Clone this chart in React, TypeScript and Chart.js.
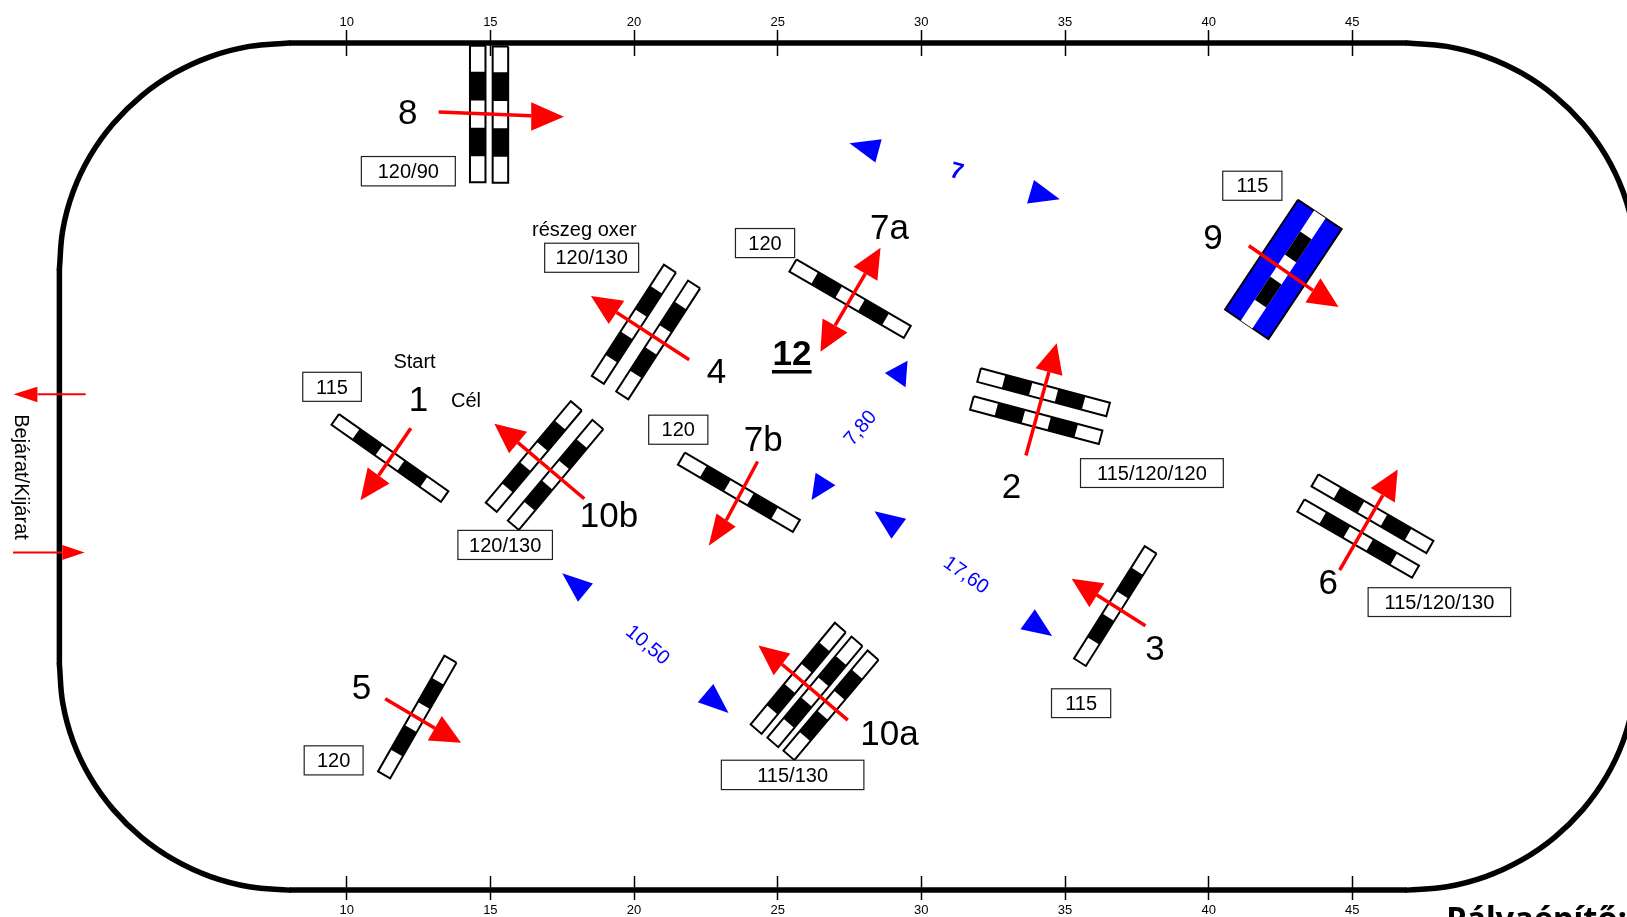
import React, { useEffect, useRef } from "react";
import { Chart, registerables } from "chart.js";

Chart.register(...registerables);

// ---- axis ----
const TICK_VALUES = [10, 15, 20, 25, 30, 35, 40, 45];

// ---- arena rail, metres: four corners and the straights between them ----
const CORNER_TL_X = [0, 0.12, 0.48, 1.07, 1.87, 2.86, 4, 5.26, 6.61, 8];
const CORNER_TL_Y = [22, 23.39, 24.74, 26, 27.14, 28.13, 28.93, 29.52, 29.88, 30];
const CORNER_TR_X = [46.9, 48.29, 49.64, 50.9, 52.04, 53.03, 53.83, 54.42, 54.78, 54.9];
const CORNER_TR_Y = [30, 29.88, 29.52, 28.93, 28.13, 27.14, 26, 24.74, 23.39, 22];
const CORNER_BR_X = [54.9, 54.78, 54.42, 53.83, 53.03, 52.04, 50.9, 49.64, 48.29, 46.9];
const CORNER_BR_Y = [8, 6.61, 5.26, 4, 2.86, 1.87, 1.07, 0.48, 0.12, 0];
const CORNER_BL_X = [8, 6.61, 5.26, 4, 2.86, 1.87, 1.07, 0.48, 0.12, 0];
const CORNER_BL_Y = [0, 0.12, 0.48, 1.07, 1.87, 2.86, 4, 5.26, 6.61, 8];
const RAIL_STRAIGHTS = [[8, 30, 46.9, 30], [54.9, 22, 54.9, 8], [46.9, 0, 8, 0], [0, 8, 0, 22]];

// ---- obstacle poles: x1, y1, x2, y2, half-width x, half-width y ----
const POLES_8 = [[14.56, 29.9, 14.56, 25.07, 0.27, 0], [15.35, 29.88, 15.35, 25.05, 0.27, 0]];
const POLES_4 = [[21.25, 22.01, 18.74, 18.07, 0.21, -0.139], [22.09, 21.45, 19.59, 17.52, 0.21, -0.139]];
const POLES_1 = [[9.6, 16.67, 13.41, 13.94, 0.13, 0.188]];
const POLES_10B = [[17.99, 17.15, 15.03, 13.56, 0.191, -0.165], [18.74, 16.49, 15.8, 12.92, 0.191, -0.165]];
const POLES_7A = [[25.53, 22.12, 29.51, 19.77, 0.122, 0.214]];
const POLES_7B = [[21.65, 15.28, 25.65, 12.9, 0.123, 0.214]];
const POLES_2 = [[32.01, 18.24, 36.5, 17.02, 0.063, 0.24], [31.76, 17.25, 36.24, 16.04, 0.063, 0.24]];
const POLES_3 = [[37.98, 12.05, 35.52, 8.07, 0.206, -0.132]];
const POLES_5 = [[13.61, 8.18, 11.3, 4.08, 0.211, -0.124]];
const POLES_6 = [[43.7, 14.51, 47.7, 12.15, 0.122, 0.215], [43.21, 13.62, 47.2, 11.28, 0.122, 0.215]];
const POLES_10A = [[27.18, 9.3, 24.25, 5.7, 0.19, -0.168], [27.76, 8.81, 24.83, 5.23, 0.19, -0.168], [28.32, 8.32, 25.39, 4.77, 0.19, -0.168]];
const POLE_GROUPS = [POLES_8, POLES_4, POLES_1, POLES_10B, POLES_7A, POLES_7B, POLES_2, POLES_3, POLES_5, POLES_6, POLES_10A];

// ---- water jump 9 ----
const WATER_X = [43.11, 44.63, 42.08, 40.57, 43.11];
const WATER_Y = [24.45, 23.41, 19.51, 20.56, 24.45];
const POLE_9 = [43.87, 23.93, 41.32, 20.03, 0.2, -0.14];

const BLACK_PARTS = [[0.19, 0.4], [0.6, 0.81]];

// ---- red direction arrows: shaft x1,y1,x2,y2 ----
const ARROW_SHAFTS = [
  [13.2, 27.56, 16.42, 27.42],
  [21.92, 18.78, 19.39, 20.46],
  [12.23, 16.36, 11.11, 14.68],
  [18.27, 13.86, 15.96, 15.85],
  [24.3, 15.18, 23.21, 13.1],
  [28.05, 21.83, 27.0, 20.0],
  [33.64, 15.39, 34.44, 18.35],
  [41.4, 22.82, 43.63, 21.24],
  [37.8, 9.36, 36.11, 10.45],
  [44.56, 11.33, 46.06, 13.98],
  [11.34, 6.78, 13.07, 5.73],
  [27.44, 6.02, 25.15, 8.0],
];
const GATE_SHAFTS = [
  [0.915, 17.56, -0.766, 17.56],
  [-1.615, 11.96, 0.1, 11.96],
];
// ---- red arrow heads: three corners x,y ----
const ARROW_HEADS = [
  [16.42, 27.9, 17.56, 27.39, 16.42, 26.89],
  [18.5, 21.04, 19.66, 20.87, 19.12, 20.05],
  [10.48, 13.81, 10.73, 14.97, 11.49, 14.4],
  [15.14, 16.52, 16.28, 16.23, 15.65, 15.47],
  [22.6, 12.2, 22.87, 13.34, 23.54, 12.87],
  [28.58, 22.75, 27.64, 22.08, 28.47, 21.58],
  [26.49, 19.07, 26.56, 20.24, 27.43, 19.75],
  [34.71, 19.37, 33.97, 18.48, 34.91, 18.22],
  [44.52, 20.65, 43.89, 21.67, 43.37, 20.81],
  [35.23, 11.03, 36.37, 10.87, 35.85, 10.02],
  [46.58, 14.9, 45.64, 14.24, 46.48, 13.73],
  [13.98, 5.22, 13.31, 6.17, 12.82, 5.3],
  [24.33, 8.66, 25.44, 8.38, 24.86, 7.61],
  [-1.597, 17.56, -0.766, 17.83, -0.766, 17.28],
  [0.88, 11.96, 0.1, 12.22, 0.1, 11.69],
];

// ---- blue distance markers: three corners x,y ----
const BLUE_MARKS = [
  [27.5, 26.45, 28.62, 26.59, 28.4, 25.77],
  [33.92, 25.15, 34.82, 24.47, 33.68, 24.32],
  [29.52, 18.75, 29.45, 17.81, 28.73, 18.31],
  [26.32, 14.78, 27.01, 14.34, 26.18, 13.82],
  [28.37, 13.42, 29.47, 13.15, 28.96, 12.44],
  [33.95, 9.95, 34.55, 9.0, 33.45, 9.24],
  [17.5, 11.22, 18.57, 10.86, 18.05, 10.21],
  [22.76, 7.3, 23.29, 6.27, 22.22, 6.65],
];

// ---- underline of 12 ----
const UNDERLINE_X = [24.8, 26.18];
const UNDERLINE_Y = [18.36, 18.36];

// ---- height boxes: text, x1, y1, x2, y2 ----
const HEIGHT_BOXES: [string, number, number, number, number][] = [
  ["120/90", 10.51, 25.98, 13.78, 24.94],
  ["120/130", 16.89, 22.91, 20.16, 21.88],
  ["120", 23.53, 23.43, 25.59, 22.4],
  ["115", 8.47, 18.34, 10.51, 17.31],
  ["120", 20.51, 16.82, 22.57, 15.79],
  ["120/130", 13.87, 12.74, 17.16, 11.71],
  ["120", 8.52, 5.11, 10.57, 4.08],
  ["115/130", 23.04, 4.6, 28.0, 3.56],
  ["115", 40.49, 25.46, 42.55, 24.43],
  ["115/120/120", 35.54, 15.28, 40.51, 14.26],
  ["115", 34.53, 7.13, 36.59, 6.11],
  ["115/120/130", 45.55, 10.71, 50.51, 9.69],
];

// ---- obstacle numbers: text, x, y ----
const NUMBERS: [string, number, number][] = [
  ["8", 12.12, 27.54], ["1", 12.5, 17.38], ["4", 22.87, 18.39], ["7b", 24.5, 15.97],
  ["7a", 28.89, 23.47], ["9", 40.15, 23.12], ["2", 33.14, 14.32], ["10b", 19.13, 13.28],
  ["5", 10.51, 7.2], ["10a", 28.89, 5.55], ["3", 38.13, 8.58], ["6", 44.16, 10.9],
];
const BOLD_NUMBER: [string, number, number] = ["12", 25.5, 19.01];

// ---- small notes: text, x, y ----
const NOTES: [string, number, number][] = [
  ["Start", 12.36, 18.74], ["Cél", 14.15, 17.36], ["részeg oxer", 18.27, 23.41],
];
// ---- distances: text, x, y, degrees ----
const DISTANCES: [string, number, number, number][] = [
  ["7", 31.24, 25.48, 15], ["7,80", 27.86, 16.38, -50], ["17,60", 31.57, 11.18, 35], ["10,50", 20.49, 8.7, 40],
];
const GATE_LABEL: [string, number, number] = ["Bejárat/Kijárat", -1.31, 14.63];
const DESIGNER_LABEL: [string, number, number] = ["Pályaépítő:", 48.27, -1.03];

const SANS = '"Liberation Sans", Arial, sans-serif';

type Pt = { x: number; y: number };
const pts = (xs: number[], ys: number[]): Pt[] => xs.map((x, i) => ({ x, y: ys[i] }));

const shape = (data: Pt[], fillColor: string, stroke = "transparent", width = 0) => ({
  data,
  fill: "shape",
  backgroundColor: fillColor,
  borderColor: stroke,
  borderWidth: width,
  pointRadius: 0,
  tension: 0,
  clip: false,
  borderJoinStyle: "miter",
});
const stroke = (data: Pt[], color: string, width: number, tension = 0, cap = "butt") => ({
  data,
  fill: false,
  borderColor: color,
  borderWidth: width,
  pointRadius: 0,
  tension,
  clip: false,
  borderCapStyle: cap,
  borderJoinStyle: "round",
});

const poleCorners = (p: number[], a: number, b: number): Pt[] => {
  const [x1, y1, x2, y2, wx, wy] = p;
  const ax = x1 + (x2 - x1) * a, ay = y1 + (y2 - y1) * a;
  const bx = x1 + (x2 - x1) * b, by = y1 + (y2 - y1) * b;
  return [
    { x: ax + wx, y: ay + wy },
    { x: bx + wx, y: by + wy },
    { x: bx - wx, y: by - wy },
    { x: ax - wx, y: ay - wy },
    { x: ax + wx, y: ay + wy },
  ];
};
const triangle = (t: number[]): Pt[] => [
  { x: t[0], y: t[1] }, { x: t[2], y: t[3] }, { x: t[4], y: t[5] }, { x: t[0], y: t[1] },
];
const segmentOf = (s: number[]): Pt[] => [{ x: s[0], y: s[1] }, { x: s[2], y: s[3] }];

const buildDatasets = () => {
  const layers: any[] = [];
  [
    [CORNER_TL_X, CORNER_TL_Y],
    [CORNER_TR_X, CORNER_TR_Y],
    [CORNER_BR_X, CORNER_BR_Y],
    [CORNER_BL_X, CORNER_BL_Y],
  ].forEach(([xs, ys]) => layers.push(stroke(pts(xs, ys), "#000", 5.5, 0.4, "round")));
  RAIL_STRAIGHTS.forEach((s) => layers.push(stroke(segmentOf(s), "#000", 5.5)));
  POLE_GROUPS.flat().forEach((p) => {
    layers.push(shape(poleCorners(p, 0, 1), "#fff", "#000", 2));
    BLACK_PARTS.forEach(([a, b]) => layers.push(shape(poleCorners(p, a, b), "#000")));
  });
  layers.push(shape(pts(WATER_X, WATER_Y), "#0000ff", "#000", 2));
  layers.push(shape(poleCorners(POLE_9, 0, 1), "#fff"));
  BLACK_PARTS.forEach(([a, b]) => layers.push(shape(poleCorners(POLE_9, a, b), "#000")));
  BLUE_MARKS.forEach((t) => layers.push(shape(triangle(t), "#0000ff")));
  ARROW_SHAFTS.forEach((s) => layers.push(stroke(segmentOf(s), "#ff0000", 3.5)));
  GATE_SHAFTS.forEach((s) => layers.push(stroke(segmentOf(s), "#ff0000", 2)));
  ARROW_HEADS.forEach((t) => layers.push(shape(triangle(t), "#ff0000")));
  layers.push(stroke(pts(UNDERLINE_X, UNDERLINE_Y), "#000", 3.5));
  // Chart.js paints dataset 0 last, so hand the layers over back to front.
  return layers.reverse();
};

const textPlugin = {
  id: "courseText",
  afterDatasetsDraw(chart: any) {
    const { ctx, scales } = chart;
    const X = (v: number) => scales.x.getPixelForValue(v);
    const Y = (v: number) => scales.y.getPixelForValue(v);
    const put = (t: string, x: number, y: number, size: number, weight = "", family = SANS, color = "#000", deg = 0, align = "center") => {
      ctx.save();
      ctx.translate(X(x), Y(y));
      ctx.rotate((deg * Math.PI) / 180);
      ctx.font = `${weight} ${size}px ${family}`;
      ctx.fillStyle = color;
      ctx.textAlign = align;
      ctx.textBaseline = "middle";
      ctx.fillText(t, 0, size * 0.06);
      ctx.restore();
    };
    HEIGHT_BOXES.forEach(([t, x1, y1, x2, y2]) => {
      ctx.save();
      ctx.strokeStyle = "#222";
      ctx.lineWidth = 1.2;
      ctx.fillStyle = "#fff";
      ctx.fillRect(X(x1), Y(y1), X(x2) - X(x1), Y(y2) - Y(y1));
      ctx.strokeRect(X(x1), Y(y1), X(x2) - X(x1), Y(y2) - Y(y1));
      ctx.restore();
      put(t, (x1 + x2) / 2, (y1 + y2) / 2, 20);
    });
    NUMBERS.forEach(([t, x, y]) => put(t, x, y, 35));
    put(BOLD_NUMBER[0], BOLD_NUMBER[1], BOLD_NUMBER[2], 35, "bold");
    NOTES.forEach(([t, x, y]) => put(t, x, y, 20));
    DISTANCES.forEach(([t, x, y, deg]) =>
      put(t, x, y, t === "7" ? 23 : 20, t === "7" ? "bold" : "", SANS, "#0000ff", deg)
    );
    put(GATE_LABEL[0], GATE_LABEL[1], GATE_LABEL[2], 20, "", SANS, "#000", 90);
    put(DESIGNER_LABEL[0], DESIGNER_LABEL[1], DESIGNER_LABEL[2], 32.5, "bold", '"Noto Sans", sans-serif', "#000", 0, "left");
  },
};

const xAxis = (position: string, tickLength: number, height: number, padding: number) => ({
  type: "linear",
  position,
  min: -2.067,
  max: 54.56,
  afterBuildTicks: (s: any) => {
    s.ticks = TICK_VALUES.map((value) => ({ value }));
  },
  afterFit: (s: any) => {
    s.height = height;
  },
  border: { display: false },
  grid: { drawOnChartArea: false, drawTicks: true, tickLength, tickColor: "#000", tickWidth: 1.5 },
  ticks: { color: "#000", padding, autoSkip: false, maxRotation: 0, font: { family: "Liberation Sans", size: 13 } },
});

export default function App() {
  const ref = useRef<HTMLCanvasElement>(null);
  useEffect(() => {
    const chart = new Chart(ref.current as HTMLCanvasElement, {
      type: "line",
      data: { datasets: buildDatasets() as any },
      plugins: [textPlugin as any],
      options: {
        animation: false,
        responsive: false,
        devicePixelRatio: 1,
        events: [],
        layout: { padding: 0 },
        plugins: { legend: { display: false }, tooltip: { enabled: false } },
        scales: {
          x: xAxis("top", 26, 56, 0) as any,
          x2: xAxis("bottom", 24, 41, 3) as any,
          y: { type: "linear", display: false, min: 0.5, max: 29.54 },
        },
      },
    });
    return () => chart.destroy();
  }, []);
  return (
    <div style={{ position: "fixed", left: 0, top: 0, width: 1627, height: 917, background: "#fff", overflow: "hidden" }}>
      <canvas ref={ref} width={1627} height={917} style={{ display: "block" }} />
    </div>
  );
}
